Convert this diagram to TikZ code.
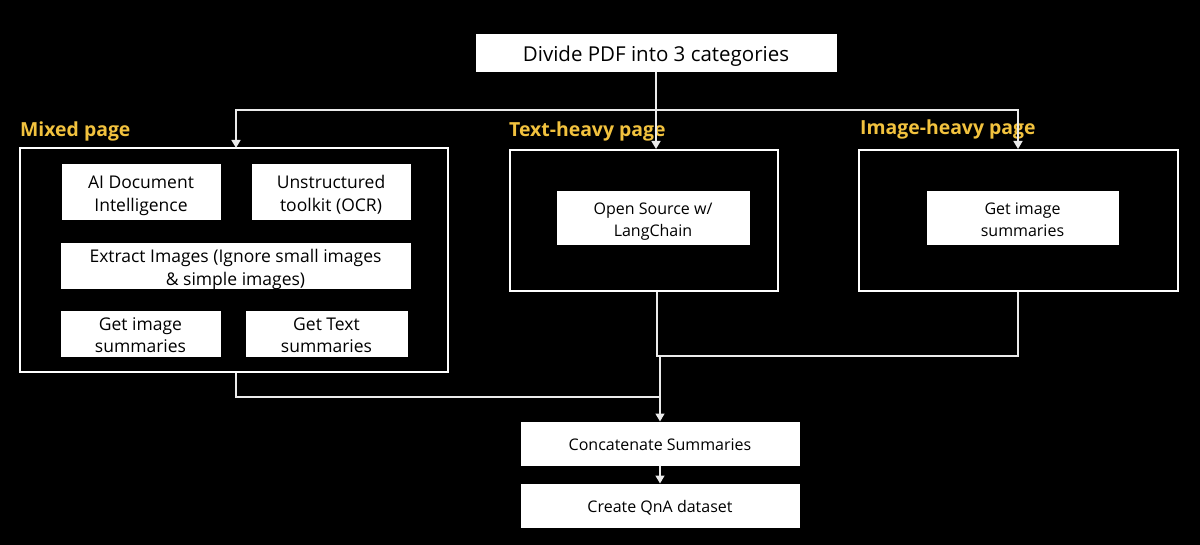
\documentclass[tikz,border=0pt]{standalone}
\usepackage{fontspec}
\setmainfont{Open Sans}
\usetikzlibrary{arrows.meta}
\definecolor{lbl}{HTML}{F2C23E}
\newcommand\lowtxt[1]{\raisebox{-3pt}[\height][\depth]{\begin{tabular}{@{}c@{}}#1\end{tabular}}}
\begin{document}
\begin{tikzpicture}[x=1pt,y=-1pt,
  wbox/.style={draw=white,fill=white,line width=1pt,minimum width=#1,inner sep=0pt,text=black},
  frame/.style={draw=white,line width=2pt},
  conn/.style={draw=white!92!black,line width=1.6pt},
  arr/.style={conn,-{Triangle[length=8pt,width=9pt]}},
  cat/.style={text=lbl,font=\fontsize{19.4}{22}\selectfont\bfseries,anchor=west,inner sep=0pt}]
\fill[black] (0,0) rectangle (1200,545);
\useasboundingbox (0,0) rectangle (1200,545);
% top
\node[wbox=360pt,minimum height=37pt,font=\fontsize{20.5}{24}\selectfont] (top) at (656,53.5) {\lowtxt{Divide PDF into 3 categories}};
% frames
\node[frame,minimum width=428pt,minimum height=224pt,inner sep=0pt] (mixed) at (234,260) {};
\node[frame,minimum width=268pt,minimum height=141pt,inner sep=0pt] (texth) at (644,220.5) {};
\node[frame,minimum width=319pt,minimum height=141pt,inner sep=0pt] (imgh) at (1018.5,220.5) {};
% labels
\node[cat] (lm) at (20,131) {Mixed page};
\node[cat] (lt) at (509,131) {Text-heavy page};
\node[cat] (li) at (860,129) {Image-heavy page};
% inner nodes mixed
\begin{scope}[every node/.append style={font=\fontsize{17.5}{22.5}\selectfont}]
\node[wbox=158pt,minimum height=55pt] (ai) at (141,192.5) {\lowtxt{AI Document\\Intelligence}};
\node[wbox=158pt,minimum height=55pt] (un) at (331,192.5) {\lowtxt{Unstructured\\toolkit (OCR)}};
\node[wbox=349pt,minimum height=43pt] (ex) at (235.5,266.5) {\lowtxt{Extract Images (Ignore small images\\\& simple images)}};
\node[wbox=159pt,minimum height=42pt] (gi) at (140.5,334) {\lowtxt{Get image\\summaries}};
\node[wbox=161pt,minimum height=42pt] (gt) at (326.5,334) {\lowtxt{Get Text\\summaries}};
\end{scope}
\begin{scope}[every node/.append style={font=\fontsize{16}{22}\selectfont}]
\node[wbox=192pt,minimum height=53pt] (os) at (653,218.5) {\lowtxt{Open Source w/\\LangChain}};
\node[wbox=191pt,minimum height=53pt] (gi2) at (1022.5,218.5) {\lowtxt{Get image\\summaries}};
\node[wbox=278pt,minimum height=43pt] (cc) at (660,443.5) {\lowtxt{Concatenate Summaries}};
\node[wbox=278pt,minimum height=43pt] (qa) at (660,505.5) {\lowtxt{Create QnA dataset}};
\end{scope}
% connectors
\coordinate (split) at (656,110);
\draw[conn] (top.south -| split) -- (split);
\draw[arr] (split) -| (236,148);
\draw[arr] (split) -- (656,149);
\draw[arr] (split) -| (1018,149);
\coordinate (j1) at (657,356);
\coordinate (j2) at (660,397);
\draw[conn] (texth.south -| j1) -- (j1) -| (imgh.south -| 1018,0);
\draw[conn] (mixed.south -| 236,0) |- (j2);
\draw[arr] (j1) -- (660,356) -- (cc.north);
\draw[arr] (cc.south) -- (qa.north);
\end{tikzpicture}
\end{document}
